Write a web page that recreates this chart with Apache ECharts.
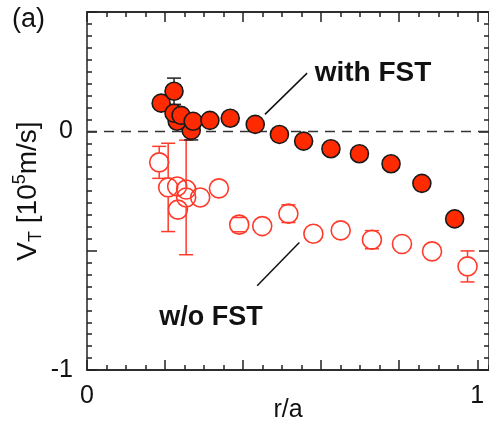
<!DOCTYPE html>
<html style="height: 100%">

<head>
  <meta charset="UTF-8" />
  <title>V_T profile</title>
  <script src="https://cdn.jsdelivr.net/npm/echarts@6/dist/echarts.min.js"></script>
</head>

<body style="height: 100%; margin: 0; background: #fff">
  <div id="container" style="width: 489px; height: 425px"></div>
  <script>
    // with FST (filled)
    const withX = [0.190, 0.223, 0.267, 0.231, 0.223, 0.241, 0.272, 0.315, 0.367, 0.431, 0.493, 0.555, 0.625, 0.698, 0.779, 0.858, 0.942];
    const withY = [0.118, 0.168, 0.004, 0.042, 0.076, 0.067, 0.042, 0.046, 0.055, 0.029, -0.013, -0.041, -0.073, -0.094, -0.136, -0.218, -0.367];
    const withErr = [0, 0.055, 0.04, 0, 0, 0, 0, 0, 0, 0, 0, 0, 0, 0, 0, 0, 0];

    // w/o FST (open)
    const woX = [0.185, 0.208, 0.231, 0.254, 0.254, 0.233, 0.290, 0.338, 0.390, 0.449, 0.516, 0.580, 0.650, 0.730, 0.807, 0.884, 0.975];
    const woY = [-0.130, -0.235, -0.231, -0.244, -0.277, -0.328, -0.277, -0.239, -0.391, -0.397, -0.345, -0.429, -0.415, -0.454, -0.472, -0.503, -0.566];
    const woErr = [0.067, 0.185, 0, 0, 0.24, 0, 0, 0, 0.03, 0, 0.037, 0, 0, 0.038, 0, 0, 0.065];

    const xTickLabels = { 0: '0', 1: '1' };
    const yTickLabels = { 0: '0', '-1': '-1' };

    const FONT = 'Liberation Sans, Arial, sans-serif';
    const RED = '#ff2a00';
    const OPEN_RED = '#ff3a2a';

    const pts = (xs, ys) => xs.map((x, i) => [x, ys[i]]);
    const bars = (xs, ys, es) => xs.map((x, i) => [x, ys[i], es[i]]).filter(d => d[2] > 0);

    function errorBar(radius, color) {
      return function (params, api) {
        const x = api.value(0), y = api.value(1), e = api.value(2);
        const c = api.coord([x, y]);
        const hi = api.coord([x, y + e]);
        const lo = api.coord([x, y - e]);
        const w = 7;
        const style = { stroke: color, lineWidth: 1.5 };
        const kids = [
          { type: 'line', shape: { x1: c[0] - w, y1: hi[1], x2: c[0] + w, y2: hi[1] }, style },
          { type: 'line', shape: { x1: c[0] - w, y1: lo[1], x2: c[0] + w, y2: lo[1] }, style }
        ];
        if (c[1] - radius > hi[1]) kids.push({ type: 'line', shape: { x1: c[0], y1: hi[1], x2: c[0], y2: c[1] - radius }, style });
        if (lo[1] > c[1] + radius) kids.push({ type: 'line', shape: { x1: c[0], y1: c[1] + radius, x2: c[0], y2: lo[1] }, style });
        return { type: 'group', children: kids };
      };
    }

    const lineStyle = { color: '#222', width: 1.5 };

    function xAx(pos, interval, len, withLabels) {
      return {
        type: 'value', position: pos, min: 0, max: 1.03, interval: interval,
        axisLine: { show: true, onZero: false, lineStyle },
        axisTick: { show: true, inside: true, length: len, lineStyle },
        splitLine: { show: false },
        axisLabel: withLabels ? {
          show: true, margin: 14, fontSize: 25, color: '#111', fontFamily: FONT,
          showMaxLabel: false,
          formatter: v => xTickLabels[v] !== undefined ? xTickLabels[v] : ''
        } : { show: false },
        name: withLabels ? 'r/a' : '',
        nameLocation: 'middle', nameGap: 28, nameMoveOverlap: false,
        nameTextStyle: { fontSize: 25, color: '#111', fontFamily: FONT }
      };
    }

    function yAx(pos, withLabels) {
      return {
        type: 'value', position: pos, min: -1, max: 0.5, interval: 0.5,
        axisLine: { show: true, onZero: false, lineStyle },
        axisTick: { show: true, inside: true, length: 10, lineStyle },
        minorTick: { show: true, splitNumber: 10, length: 5, lineStyle },
        splitLine: { show: false },
        axisLabel: withLabels ? {
          show: true, margin: 14, fontSize: 25, color: '#111', fontFamily: FONT,
          formatter: v => yTickLabels[v] !== undefined ? yTickLabels[v] : ''
        } : { show: false },
        name: withLabels ? '{v|V}{sub|T}{v| [10}{sup|5}{v|m/s]}' : '',
        nameLocation: 'middle', nameGap: 42, nameMoveOverlap: false,
        nameTextStyle: {
          fontFamily: FONT, color: '#111',
          rich: {
            v: { fontSize: 28, fontFamily: FONT, color: '#111', lineHeight: 34, verticalAlign: 'middle' },
            sub: { fontSize: 18, fontFamily: FONT, color: '#111', lineHeight: 34, verticalAlign: 'bottom' },
            sup: { fontSize: 18, fontFamily: FONT, color: '#111', lineHeight: 34, verticalAlign: 'top' }
          }
        }
      };
    }

    const chart = echarts.init(document.getElementById('container'), null, { renderer: 'canvas' });

    chart.setOption({
      backgroundColor: '#fff',
      animation: false,
      grid: { left: 87, right: 0, top: 12, bottom: 55, containLabel: false, outerBoundsMode: 'none' },
      xAxis: [
        xAx('bottom', 0.2, 10, true),
        xAx('bottom', 0.05, 5, false),
        xAx('top', 0.2, 10, false),
        xAx('top', 0.05, 5, false)
      ],
      yAxis: [yAx('left', true), yAx('right', false)],
      graphic: [
        { type: 'text', x: 12, y: 6, style: { text: '(a)', font: '27px ' + FONT, fill: '#111' } },
        { type: 'text', x: 373, y: 73, style: { text: 'with FST', font: 'bold 28px ' + FONT, fill: '#111', align: 'center', verticalAlign: 'middle' } },
        { type: 'text', x: 211, y: 318, style: { text: 'w/o FST', font: 'bold 27px ' + FONT, fill: '#111', align: 'center', verticalAlign: 'middle' } }
      ],
      series: [
        {
          type: 'custom', name: 'wo-err', xAxisIndex: 0, yAxisIndex: 0,
          renderItem: errorBar(10, OPEN_RED),
          data: bars(woX, woY, woErr), z: 2, silent: true
        },
        {
          type: 'scatter', name: 'w/o FST', xAxisIndex: 0, yAxisIndex: 0,
          symbol: 'circle', symbolSize: 19,
          itemStyle: { color: 'rgba(255,255,255,0)', borderColor: OPEN_RED, borderWidth: 1.6, opacity: 1 },
          data: pts(woX, woY), z: 3
        },
        {
          type: 'custom', name: 'with-err', xAxisIndex: 0, yAxisIndex: 0,
          renderItem: errorBar(9, '#222'),
          data: bars(withX, withY, withErr), z: 4, silent: true
        },
        {
          type: 'scatter', name: 'with FST', xAxisIndex: 0, yAxisIndex: 0,
          symbol: 'circle', symbolSize: 18,
          itemStyle: { color: RED, borderColor: '#1a1a1a', borderWidth: 1.6, opacity: 1 },
          data: pts(withX, withY), z: 5,
          markLine: {
            silent: true, symbol: 'none', animation: false,
            label: { show: false },
            data: [
              { yAxis: 0, lineStyle: { color: '#333', width: 1.3, type: [10, 7] } },
              [{ coord: [0.456, 0.071], lineStyle: { color: '#111', width: 1.5, type: 'solid' } }, { coord: [0.564, 0.244] }],
              [{ coord: [0.436, -0.647], lineStyle: { color: '#111', width: 1.5, type: 'solid' } }, { coord: [0.544, -0.466] }]
            ]
          }
        }
      ]
    });
  </script>
</body>

</html>
